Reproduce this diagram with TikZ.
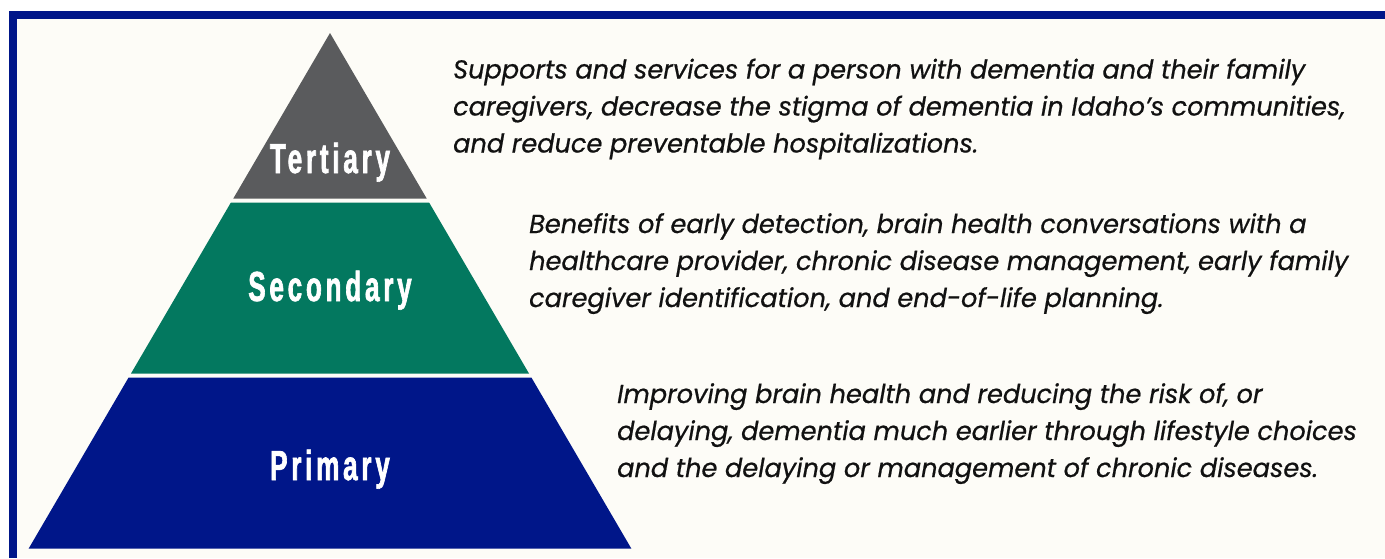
\documentclass[tikz,border=0pt]{standalone}
\usepackage{fontspec}
\setmainfont{Poppins}
\newfontfamily\bodyfont{Poppins}[FakeStretch=0.985,FakeBold=0.6]
\newfontfamily\tierfont{Liberation Sans}[FakeStretch=0.62,LetterSpace=9,FakeBold=1.5]
\definecolor{paper}{HTML}{FDFCF7}
\definecolor{navy}{HTML}{001689}
\definecolor{tealtier}{HTML}{03785F}
\definecolor{graytier}{HTML}{5A5B5D}
\definecolor{ink}{HTML}{111111}
\begin{document}
\begin{tikzpicture}[x=1pt,y=-1pt,
  tier/.style={text=white,font=\tierfont\bfseries\fontsize{42}{42}\selectfont,anchor=base,inner sep=0pt},
  blurb/.style={text=ink,font=\bodyfont\itshape\fontsize{26}{37}\selectfont,align=left,anchor=base west,inner sep=0pt}]
\useasboundingbox (0,0) rectangle (1385,558);
% page and frame
\fill[white] (0,0) rectangle (1385,558);
\fill[paper] (17,19) rectangle (1385,558);
\fill[navy] (9,11) rectangle (1385,19);
\fill[navy] (9,11) rectangle (17,558);
% pyramid tiers
\fill[graytier] (330,33) -- (426.7,198.5) -- (233.3,198.5) -- cycle;
\fill[tealtier] (230.9,202.5) -- (429.1,202.5) -- (529,373.5) -- (131,373.5) -- cycle;
\fill[navy] (128.6,377.5) -- (531.4,377.5) -- (631.3,548.5) -- (28.7,548.5) -- cycle;
% tier labels
\node[tier] (tertiary) at (330,173) {Tertiary};
\node[tier] (secondary) at (330,301) {Secondary};
\node[tier] (primary) at (330,480) {Primary};
% descriptions (placed at the baseline of their last line)
\node[blurb] (tertdesc) at (453,152.5) {Supports and services for a person with dementia and their family\\caregivers, decrease the stigma of dementia in Idaho’s communities,\\and reduce preventable hospitalizations.};
\node[blurb] (secdesc) at (529,307) {Benefits of early detection, brain health conversations with a\\healthcare provider, chronic disease management, early family\\caregiver identification, and end-of-life planning.};
\node[blurb] (primdesc) at (617,477) {Improving brain health and reducing the risk of, or\\delaying, dementia much earlier through lifestyle choices\\and the delaying or management of chronic diseases.};
\end{tikzpicture}
\end{document}
